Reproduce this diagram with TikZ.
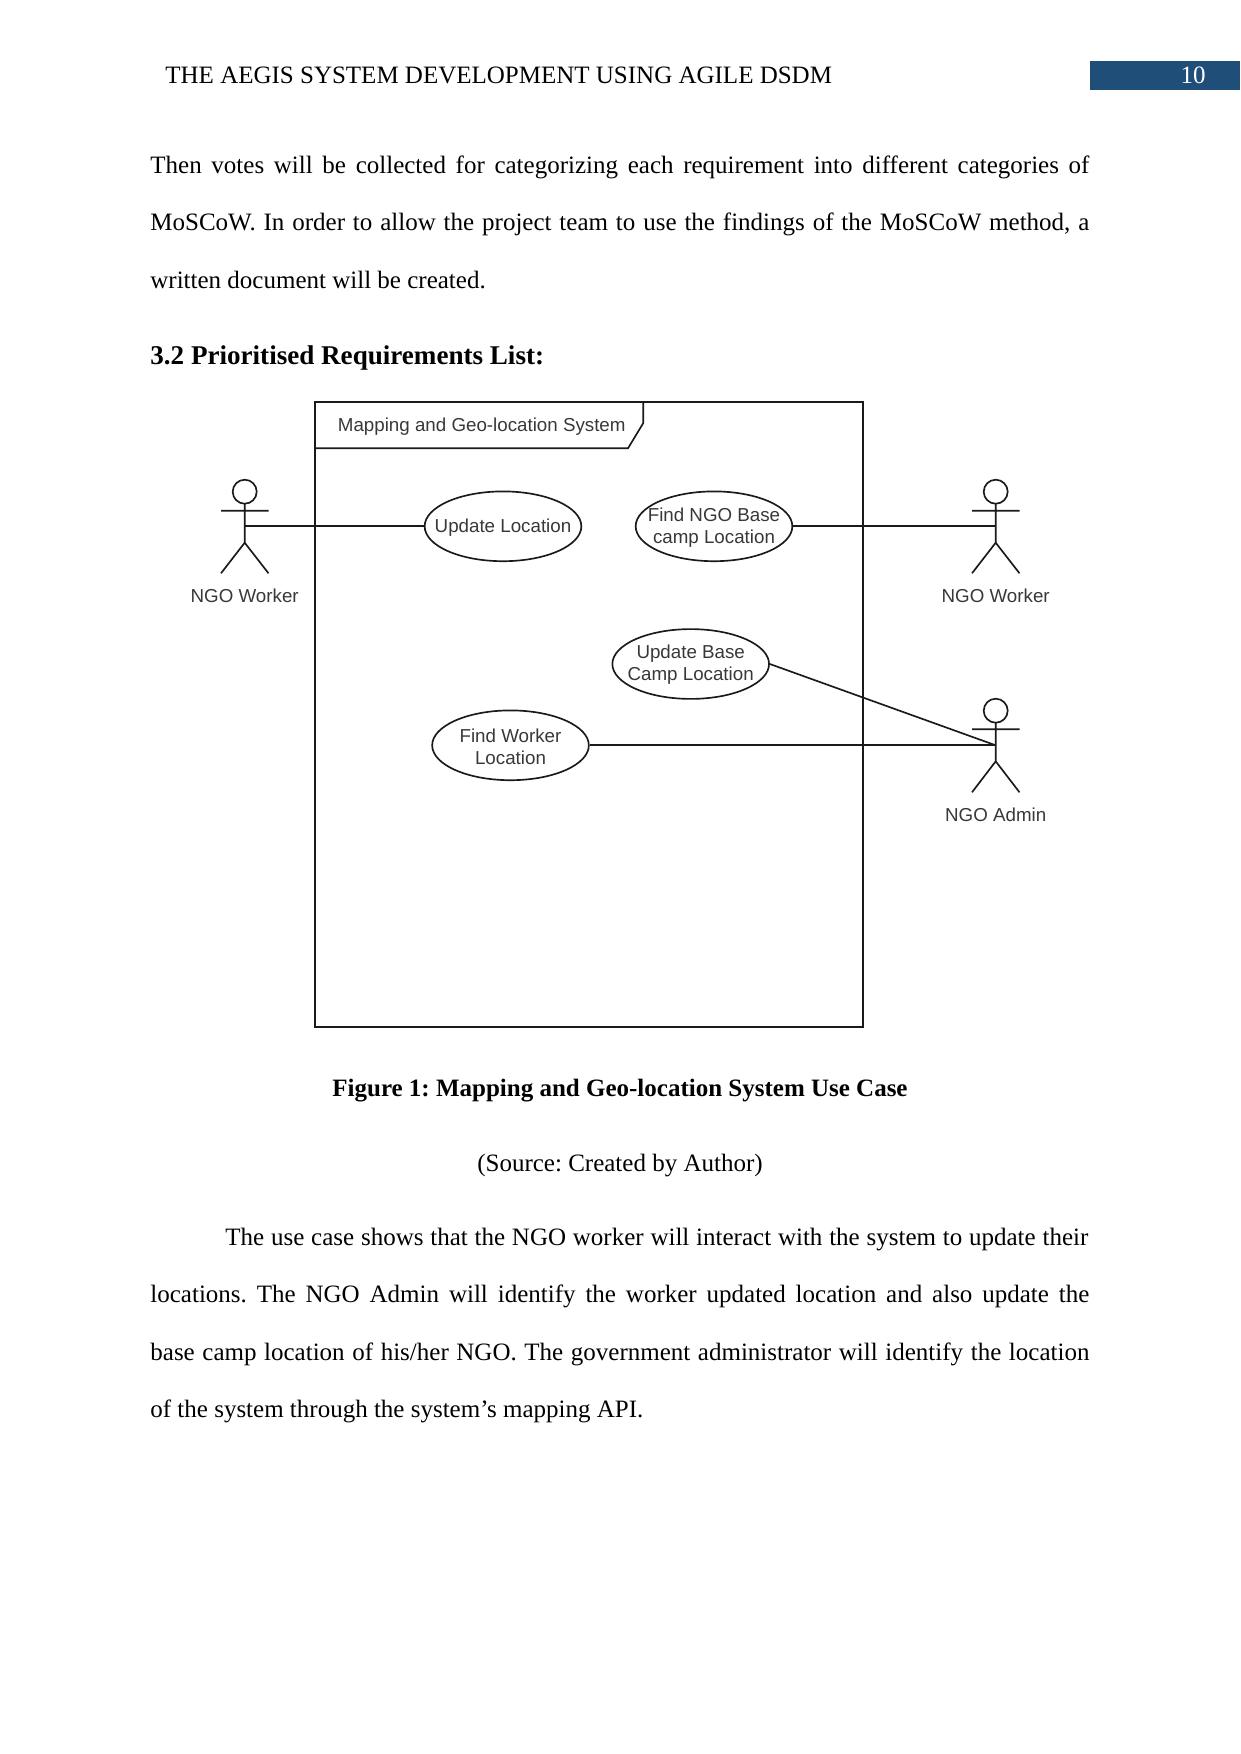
\documentclass[tikz,border=0pt]{standalone}
\usepackage{fontspec}
\setmainfont{Liberation Serif}
\newfontfamily\diagfont{Liberation Sans}
\usetikzlibrary{shapes.geometric}
\definecolor{barblue}{HTML}{1F4E79}
\definecolor{diagtext}{HTML}{383838}
\definecolor{diagline}{HTML}{1A1A1A}
\tikzset{
  pagetext/.style={anchor=base west,inner sep=0pt,font=\fontsize{12}{14}\selectfont\frenchspacing,text=black},
  centertext/.style={anchor=base,inner sep=0pt,font=\fontsize{12}{14}\selectfont\frenchspacing,text=black},
  casetext/.style={inner sep=0pt,align=center,yshift=-0.5pt,text=diagtext,font=\diagfont\fontsize{9}{10.6}\selectfont},
  usecase/.style={draw=diagline,ellipse,line width=0.8pt,minimum width=75.2pt,minimum height=33.5pt,inner sep=0pt,label={[casetext]center:{#1}}},
  actorlabel/.style={inner sep=0pt,text=diagtext,font=\diagfont\fontsize{9}{10.6}\selectfont},
  diagline/.style={draw=diagline,line width=0.8pt},
}
\newcommand{\jline}[1]{\makebox[450.7pt][s]{#1}}
\newcommand{\jlineb}[1]{\makebox[414.2pt][s]{#1}}
\begin{document}
\begin{tikzpicture}[x=0.48pt,y=-0.48pt]
\useasboundingbox (0,0) rectangle (1241,1754);
% header
\node[pagetext] (head) at (165,83) {THE AEGIS SYSTEM DEVELOPMENT USING AGILE DSDM};
\fill[barblue] (1090,61) rectangle (1240,89.5);
\node[centertext,text=white] (pnum) at (1193,83) {10};
% upper text
\node[pagetext] (t1) at (150,173) {\jline{Then votes will be collected for categorizing each requirement into different categories of}};
\node[pagetext] (t2) at (150,230) {\jline{MoSCoW. In order to allow the project team to use the findings of the MoSCoW method, a}};
\node[pagetext] (t3) at (150,288) {written document will be created.};
\node[pagetext,font=\fontsize{13}{15}\selectfont\bfseries\frenchspacing] (h1) at (150,364) {3.2 Prioritised Requirements List:};
% frame
\draw[diagline] (315,401.7) rectangle (862.7,1027);
\draw[diagline] (315,448.3) -- (628,448.3) -- (643.3,423) -- (643.3,401.7);
\node[actorlabel,anchor=west] (title) at (337.5,427) {Mapping and Geo-location System};
% use cases
\node[usecase={Update Location}] (ul) at (503,526.3) {};
\node[usecase={Find NGO Base\\camp Location}] (fb) at (714,526.3) {};
\node[usecase={Update Base\\Camp Location}] (ub) at (690.7,664) {};
\node[usecase={Find Worker\\Location}] (fw) at (510.5,745.3) {};
% actors
\coordinate (a1) at (244.7,526.3);
\coordinate (a2) at (995.7,526.3);
\coordinate (a3) at (995.7,745.3);
\draw[diagline] (244.7,491.7) circle (12);
\draw[diagline] (244.7,503.7) -- (244.7,542.7) (221,510.7) -- (268.5,510.7) (221,573.3) -- (244.7,542.7) -- (268.5,573.3);
\node[actorlabel] (al1) at (244.7,595.5) {NGO Worker};
\draw[diagline] (995.7,491.7) circle (12);
\draw[diagline] (995.7,503.7) -- (995.7,542.7) (972,510.7) -- (1019.5,510.7) (972,573.3) -- (995.7,542.7) -- (1019.5,573.3);
\node[actorlabel] (al2) at (995.7,595.5) {NGO Worker};
\draw[diagline] (995.7,710.7) circle (12);
\draw[diagline] (995.7,722.7) -- (995.7,761.3) (972,729.3) -- (1019.5,729.3) (972,792.3) -- (995.7,761.3) -- (1019.5,792.3);
\node[actorlabel] (al3) at (995.7,814.5) {NGO Admin};
% connectors
\draw[diagline] (a1) -- (ul.west);
\draw[diagline] (fb.east) -- (a2);
\draw[diagline] (ub.east) -- (a3);
\draw[diagline] (fw.east) -- (a3);
% lower text
\node[centertext,font=\fontsize{12}{14}\selectfont\bfseries\frenchspacing] (cap) at (620,1096) {Figure 1: Mapping and Geo-location System Use Case};
\node[centertext] (src) at (620,1171) {(Source: Created by Author)};
\node[pagetext] (p1) at (225,1245) {\jlineb{The use case shows that the NGO worker will interact with the system to update their}};
\node[pagetext] (p2) at (150,1302) {\jline{locations. The NGO Admin will identify the worker updated location and also update the}};
\node[pagetext] (p3) at (150,1360) {\jline{base camp location of his/her NGO. The government administrator will identify the location}};
\node[pagetext] (p4) at (150,1417) {of the system through the system’s mapping API.};
\end{tikzpicture}
\end{document}
